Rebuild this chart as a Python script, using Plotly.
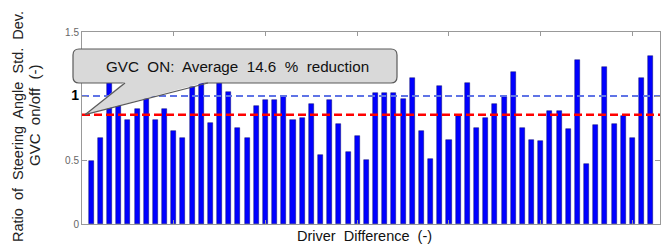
import plotly.graph_objects as go

# ---- data -------------------------------------------------------------
drivers = list(range(1, 63))
ratios = [0.49, 0.67, 1.15, 0.92, 0.81, 0.90, 0.98, 0.81, 0.90, 0.73,
          0.67, 1.07, 1.14, 0.79, 1.14, 1.03, 0.75, 0.67, 0.92, 0.97,
          0.97, 1.00, 0.81, 0.83, 0.94, 0.54, 0.97, 0.78, 0.56, 0.69,
          0.50, 1.02, 1.02, 1.02, 0.98, 1.14, 0.73, 0.51, 1.08, 0.66,
          0.84, 1.10, 0.75, 0.83, 0.94, 0.99, 1.19, 0.75, 0.66, 0.65,
          0.88, 0.88, 0.74, 1.28, 0.47, 0.77, 1.23, 0.78, 0.84, 0.67,
          1.14, 1.31]
reference_ratio = 1.0
avg_reduction_pct = 14.6
avg_ratio = 1 - avg_reduction_pct / 100.0
y_tick_vals = [0, 0.5, 1, 1.5]
y_tick_text = ["0", "0.5", "<span style='font-size:14px;color:#000'><b>1</b></span>", "1.5"]
x_tick_vals = [10, 20, 30, 40, 50, 60]
callout_text = "GVC\u00a0 ON:\u00a0 Average\u00a0 14.6\u00a0 %\u00a0 reduction"

# ---- layout geometry --------------------------------------------------
W, H = 664, 248
ML, MR, MT, MB = 82, 4, 32, 24
X_RANGE = [0, 63]
Y_RANGE = [0, 1.5]
PW, PH = W - ML - MR, H - MT - MB


def px_x(px):
    return (px - ML) / PW


def px_y(py):
    return (H - MB - py) / PH


def data_to_px_x(x):
    return ML + (x - X_RANGE[0]) / (X_RANGE[1] - X_RANGE[0]) * PW


def data_to_px_y(y):
    return H - MB - (y - Y_RANGE[0]) / (Y_RANGE[1] - Y_RANGE[0]) * PH


fig = go.Figure()
fig.add_trace(go.Bar(
    x=drivers, y=ratios, width=0.55,
    marker=dict(color="#0000ff", line=dict(color="rgba(0,0,90,0.7)", width=0.6)),
    showlegend=False, hoverinfo="skip"))

fig.add_trace(go.Scatter(
    x=X_RANGE, y=[reference_ratio, reference_ratio], mode="lines",
    line=dict(color="rgb(95,115,230)", width=2.2, dash="7px,4px"),
    showlegend=False, hoverinfo="skip"))
fig.add_trace(go.Scatter(
    x=X_RANGE, y=[avg_ratio, avg_ratio], mode="lines",
    line=dict(color="#ff0000", width=2.5, dash="8px,4px"),
    showlegend=False, hoverinfo="skip"))

# ---- callout (rounded box with wedge pointer) --------------------------
bx0, bx1, by0, by1, r = 73, 397, 49, 83, 6
grey = "#d9d9d9"
edge = "#5a5a5a"


def P(x, y):
    return f"{px_x(x):.5f},{px_y(y):.5f}"


box_path = (f"M {P(bx0 + r, by0)} L {P(bx1 - r, by0)} Q {P(bx1, by0)} {P(bx1, by0 + r)} "
            f"L {P(bx1, by1 - r)} Q {P(bx1, by1)} {P(bx1 - r, by1)} "
            f"L {P(bx0 + r, by1)} Q {P(bx0, by1)} {P(bx0, by1 - r)} "
            f"L {P(bx0, by0 + r)} Q {P(bx0, by0)} {P(bx0 + r, by0)} Z")

tip_x = data_to_px_x(0.33)
tip_y = data_to_px_y(avg_ratio)
base_l, base_r = 125, 208

shapes = [
    dict(type="path", xref="paper", yref="paper", path=box_path,
         fillcolor=grey, line=dict(color=edge, width=1.2), layer="above"),
    dict(type="path", xref="paper", yref="paper",
         path=f"M {P(base_l, by1 - 1.5)} L {P(tip_x, tip_y)} L {P(base_r, by1 - 1.5)} Z",
         fillcolor=grey, line=dict(width=0), layer="above"),
    dict(type="line", xref="paper", yref="paper",
         x0=px_x(base_l), y0=px_y(by1), x1=px_x(tip_x), y1=px_y(tip_y),
         line=dict(color=edge, width=1.2), layer="above"),
    dict(type="line", xref="paper", yref="paper",
         x0=px_x(tip_x), y0=px_y(tip_y), x1=px_x(base_r), y1=px_y(by1),
         line=dict(color=edge, width=1.2), layer="above"),
]

annotations = [
    dict(text=callout_text, xref="paper", yref="paper",
         x=px_x(104), y=px_y((by0 + by1) / 2), xanchor="left", yanchor="middle",
         showarrow=False, font=dict(family="Liberation Sans, Arial", size=15.2, color="#111")),
    dict(text="Ratio\u00a0 of\u00a0 Steering\u00a0 Angle\u00a0 Std.\u00a0 Dev.", xref="paper", yref="paper",
         x=px_x(18), y=px_y(127), xanchor="center", yanchor="middle", textangle=-90,
         showarrow=False, font=dict(family="Liberation Sans, Arial", size=14.5, color="#222")),
    dict(text="GVC\u00a0 on/off\u00a0 (-)", xref="paper", yref="paper",
         x=px_x(34), y=px_y(116), xanchor="center", yanchor="middle", textangle=-90,
         showarrow=False, font=dict(family="Liberation Sans, Arial", size=15, color="#222")),
    dict(text="Driver\u00a0 Difference\u00a0 (-)", xref="paper", yref="paper",
         x=px_x(364), y=px_y(236), xanchor="center", yanchor="middle",
         showarrow=False, font=dict(family="Liberation Sans, Arial", size=14.5, color="#111")),
]

fig.update_layout(
    width=W, height=H,
    margin=dict(l=ML, r=MR, t=MT, b=MB, pad=0),
    paper_bgcolor="white", plot_bgcolor="white",
    bargap=0, showlegend=False,
    shapes=shapes, annotations=annotations,
    xaxis=dict(range=X_RANGE, tickvals=x_tick_vals, showticklabels=False,
               ticks="inside", ticklen=4, tickcolor="#999", mirror="ticks",
               showline=True, linecolor="#999", linewidth=1, showgrid=False, zeroline=False),
    yaxis=dict(range=Y_RANGE, tickvals=y_tick_vals, ticktext=y_tick_text,
               ticks="inside", ticklen=5, tickcolor="#999", mirror="ticks",
               showline=True, linecolor="#999", linewidth=1, showgrid=False, zeroline=False,
               tickfont=dict(family="Liberation Sans, Arial", size=10, color="#666")),
)

fig.write_html("out.html", config={"displayModeBar": False},
               post_script="document.body.style.margin='0';document.body.style.overflow='hidden';")
